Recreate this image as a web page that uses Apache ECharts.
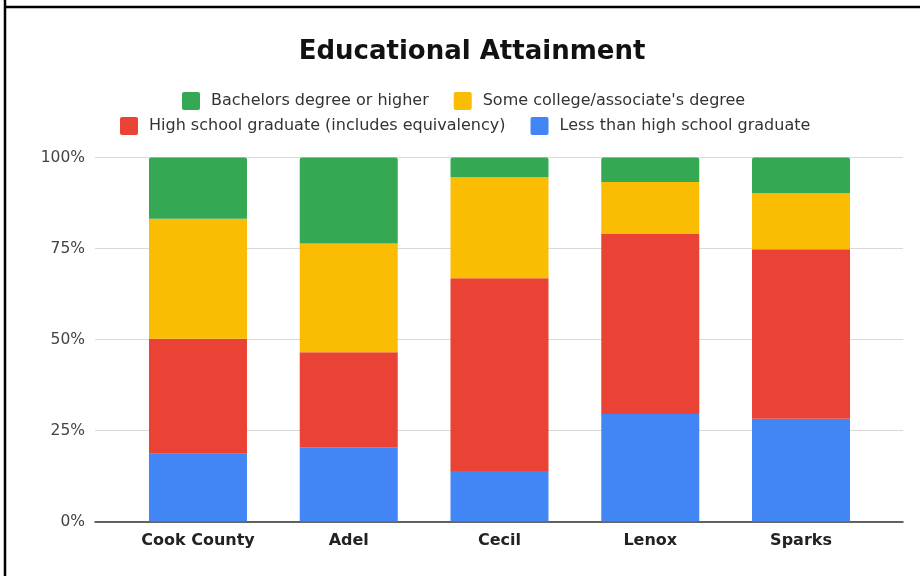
<!DOCTYPE html>
<html>
<head>
<meta charset="utf-8">
<script src="https://cdn.jsdelivr.net/npm/echarts@6/dist/echarts.min.js"></script>
<style>html,body{margin:0;padding:0;background:#fff}#c{width:920px;height:576px}</style>
</head>
<body>
<div id="c"></div>
<script>
const categories = ['Cook County', 'Adel', 'Cecil', 'Lenox', 'Sparks'];
const lessThanHS = [18.6, 20.4, 13.9, 29.5, 28.2];
const hsGraduate = [31.6, 26.1, 52.9, 49.5, 46.6];
const someCollege = [33.0, 29.9, 27.8, 14.3, 15.4];
const bachelors = [16.8, 23.6, 5.4, 6.7, 9.8];
const yTicks = [0, 25, 50, 75, 100];

const names = {
  b: 'Bachelors degree or higher',
  s: "Some college/associate's degree",
  h: 'High school graduate (includes equivalency)',
  l: 'Less than high school graduate'
};
const colors = { b: '#34a853', s: '#fbbc04', h: '#ea4335', l: '#4285f4' };
const font = '"DejaVu Sans", sans-serif';

const chart = echarts.init(document.getElementById('c'), null, { renderer: 'canvas' });
function bar(name, data, color, radius) {
  return {
    name, type: 'bar', stack: 'total', data,
    xAxisIndex: 0, yAxisIndex: 0,
    barWidth: 98,
    itemStyle: { color, borderRadius: radius ? [2, 2, 0, 0] : 0 },
    emphasis: { disabled: true }
  };
}
const legendCommon = {
  itemWidth: 18, itemHeight: 18, itemGap: 25,
  icon: 'path://M2,0H16A2,2,0,0,1,18,2V16A2,2,0,0,1,16,18H2A2,2,0,0,1,0,16V2A2,2,0,0,1,2,0Z',
  textStyle: { fontFamily: font, fontSize: 16, color: '#333', padding: [0, 0, 0, 6] },
  selectedMode: false
};
chart.setOption({
  animation: false,
  title: {
    text: 'Educational Attainment', left: 467, textAlign: 'center', top: 34,
    textStyle: { fontFamily: font, fontSize: 26, fontWeight: 'bold', color: '#111' }
  },
  legend: [
    Object.assign({ data: [names.b, names.s], left: 177, top: 87 }, legendCommon),
    Object.assign({ data: [names.h, names.l], left: 115, top: 112 }, legendCommon)
  ],
  grid: [
    { left: 122.6, right: 43.6, top: 157.5, height: 364 },
    { left: 95, right: 17, top: 157.5, height: 364 }
  ],
  xAxis: [
    {
      type: 'category', data: categories, gridIndex: 0,
      axisLine: { show: false }, axisTick: { show: false },
      axisLabel: { fontFamily: font, fontSize: 16, fontWeight: 'bold', color: '#222', margin: 11 }
    },
    {
      type: 'value', gridIndex: 1, min: 0, max: 1, show: true,
      axisLine: { show: true, onZero: false, lineStyle: { color: '#333', width: 1.5 } },
      axisTick: { show: false }, axisLabel: { show: false }, splitLine: { show: false }
    }
  ],
  yAxis: [
    {
      type: 'value', gridIndex: 0, min: 0, max: 100, interval: 25,
      axisLabel: { show: false }, splitLine: { show: false },
      axisLine: { show: false }, axisTick: { show: false }
    },
    {
      type: 'value', gridIndex: 1, min: 0, max: 100, interval: 25,
      axisLine: { show: false }, axisTick: { show: false },
      axisLabel: {
        fontFamily: font, fontSize: 15.5, color: '#444', margin: 10,
        formatter: v => yTicks.includes(v) ? v + '%' : ''
      },
      splitLine: { show: true, lineStyle: { color: '#d9d9d9', width: 1.2 } }
    }
  ],
  series: [
    bar(names.l, lessThanHS, colors.l),
    bar(names.h, hsGraduate, colors.h),
    bar(names.s, someCollege, colors.s),
    bar(names.b, bachelors, colors.b, true)
  ],
  color: [colors.l, colors.h, colors.s, colors.b],
  graphic: [
    { type: 'line', shape: { x1: 5, y1: 0, x2: 5, y2: 576 }, style: { stroke: '#000', lineWidth: 2.5 }, z: 100 },
    { type: 'line', shape: { x1: 4, y1: 7, x2: 920, y2: 7 }, style: { stroke: '#000', lineWidth: 2.5 }, z: 100 }
  ]
});
</script>
</body>
</html>
